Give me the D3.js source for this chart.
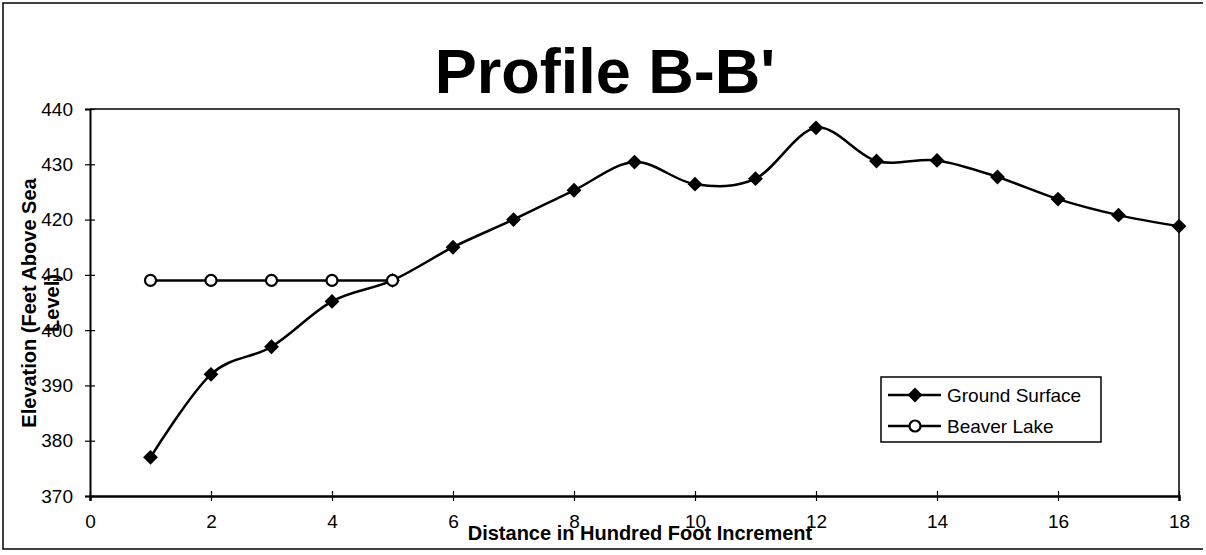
<!DOCTYPE html>
<html>
<head>
<meta charset="utf-8">
<script src="https://cdn.jsdelivr.net/npm/d3@7"></script>
<style>
  body { margin: 0; background: #fff; }
  svg { display: block; font-family: 'Liberation Sans', Arial, sans-serif; }
</style>
</head>
<body>
<svg></svg>
<script>
const distance = [1, 2, 3, 4, 5, 6, 7, 8, 9, 10, 11, 12, 13, 14, 15, 16, 17, 18];
const groundSurface = [377, 392, 397, 405.2, 409, 415, 420, 425.3, 430.4, 426.4, 427.4, 436.6, 430.6, 430.7, 427.7, 423.7, 420.8, 418.8];
const lakeDistance = [1, 2, 3, 4, 5];
const beaverLake = [409, 409, 409, 409, 409];
const xTicks = [0, 2, 4, 6, 8, 10, 12, 14, 16, 18];
const yTicks = [370, 380, 390, 400, 410, 420, 430, 440];

const width = 1206;
const height = 555;
const plotLeft = 90, plotRight = 1179, plotTop = 109, plotBottom = 496;

const svg = d3.select('svg').attr('width', width).attr('height', height);

// outer frame of the scanned page
svg.append('path')
  .attr('d', `M1203,3 H3 V549 H1203`)
  .attr('fill', 'none').attr('stroke', '#000').attr('stroke-width', 1.5);

const x = d3.scaleLinear().domain([0, 18]).range([plotLeft, plotRight]);
const y = d3.scaleLinear().domain([370, 440]).range([plotBottom, plotTop]);

// plot border (top and right)
svg.append('path')
  .attr('d', `M${plotLeft},${plotTop} H${plotRight} V${plotBottom}`)
  .attr('fill', 'none').attr('stroke', '#000').attr('stroke-width', 1.5);

const xAxis = svg.append('g')
  .attr('transform', `translate(0,${plotBottom})`)
  .call(d3.axisBottom(x).tickValues(xTicks).tickSize(5).tickPadding(14));
xAxis.select('.domain').attr('stroke-width', 2.5);
xAxis.selectAll('.tick line').attr('y1', -5).attr('stroke-width', 1.2);
xAxis.selectAll('.tick text').attr('font-size', 19).attr('fill', '#000');

const yAxis = svg.append('g')
  .attr('transform', `translate(${plotLeft},0)`)
  .call(d3.axisLeft(y).tickValues(yTicks).tickSize(5).tickPadding(12));
yAxis.select('.domain').attr('stroke-width', 2);
yAxis.selectAll('.tick line').attr('x1', 5).attr('stroke-width', 1.2);
yAxis.selectAll('.tick text').attr('font-size', 19).attr('fill', '#000');

// title
svg.append('text')
  .attr('x', 605).attr('y', 93)
  .attr('text-anchor', 'middle')
  .attr('font-size', 63).attr('font-weight', 'bold')
  .text("Profile B-B'");

// axis titles
svg.append('text')
  .attr('x', 640).attr('y', 540)
  .attr('text-anchor', 'middle')
  .attr('font-size', 20).attr('font-weight', 'bold')
  .text('Distance in Hundred Foot Increment');

const yTitle = svg.append('text')
  .attr('transform', 'translate(36,303) rotate(-90)')
  .attr('text-anchor', 'middle')
  .attr('font-size', 20).attr('font-weight', 'bold');
yTitle.append('tspan').attr('x', 0).attr('dy', 0).text('Elevation (Feet Above Sea');
yTitle.append('tspan').attr('x', 0).attr('dy', 23).text('Level)');

// series
const ground = distance.map((d, i) => [d, groundSurface[i]]);
const lake = lakeDistance.map((d, i) => [d, beaverLake[i]]);

svg.append('path')
  .datum(ground)
  .attr('fill', 'none').attr('stroke', '#000').attr('stroke-width', 2.5)
  .attr('d', d3.line().x(d => x(d[0])).y(d => y(d[1])).curve(d3.curveCatmullRom.alpha(0)));

svg.append('path')
  .datum(lake)
  .attr('fill', 'none').attr('stroke', '#000').attr('stroke-width', 2.5)
  .attr('d', d3.line().x(d => x(d[0])).y(d => y(d[1])));

const diamond = d3.symbol(d3.symbolSquare, 110);

svg.selectAll('.ground-pt')
  .data(ground)
  .enter()
  .append('path')
  .attr('class', 'ground-pt')
  .attr('d', diamond)
  .attr('transform', d => `translate(${x(d[0])},${y(d[1])}) rotate(45)`)
  .attr('fill', '#000');

svg.selectAll('.lake-pt')
  .data(lake)
  .enter()
  .append('circle')
  .attr('class', 'lake-pt')
  .attr('cx', d => x(d[0])).attr('cy', d => y(d[1]))
  .attr('r', 5.5)
  .attr('fill', '#fff').attr('stroke', '#000').attr('stroke-width', 2.2);

// legend
const legend = svg.append('g').attr('transform', 'translate(881,377)');
legend.append('rect')
  .attr('width', 220).attr('height', 65)
  .attr('fill', '#fff').attr('stroke', '#000').attr('stroke-width', 1.5);

const entries = [
  { name: 'Ground Surface', type: 'diamond', y: 18 },
  { name: 'Beaver Lake', type: 'circle', y: 49 },
];
entries.forEach((e) => {
  legend.append('line')
    .attr('x1', 7).attr('x2', 60).attr('y1', e.y).attr('y2', e.y)
    .attr('stroke', '#000').attr('stroke-width', 2.5);
  if (e.type === 'diamond') {
    legend.append('path').attr('d', diamond)
      .attr('transform', `translate(34,${e.y}) rotate(45)`).attr('fill', '#000');
  } else {
    legend.append('circle').attr('cx', 34).attr('cy', e.y).attr('r', 5.5)
      .attr('fill', '#fff').attr('stroke', '#000').attr('stroke-width', 2.2);
  }
  legend.append('text')
    .attr('x', 66).attr('y', e.y + 7)
    .attr('font-size', 19)
    .text(e.name);
});
</script>
</body>
</html>
